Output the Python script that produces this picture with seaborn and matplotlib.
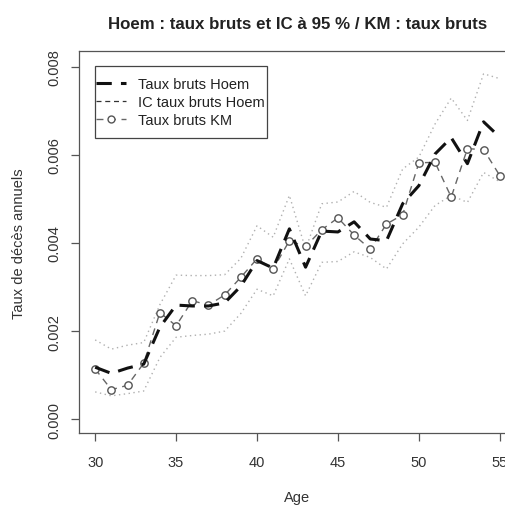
import pandas as pd
import matplotlib
matplotlib.use('Agg')
import matplotlib.pyplot as plt
from matplotlib.lines import Line2D
from matplotlib.patches import Rectangle
import seaborn as sns

# =========================================================
# DONNEES
# =========================================================
ages = [30, 31, 32, 33, 34, 35, 36, 37, 38, 39, 40, 41, 42,
        43, 44, 45, 46, 47, 48, 49, 50, 51, 52, 53, 54, 55]

taux_hoem = [0.00118, 0.00104, 0.00116, 0.00125, 0.00209, 0.00259, 0.00257,
             0.00257, 0.00264, 0.00302, 0.00360, 0.00343, 0.00432, 0.00345,
             0.00427, 0.00425, 0.00448, 0.00409, 0.00405, 0.00489, 0.00530,
             0.00602, 0.00639, 0.00580, 0.00675, 0.00640]

ic_haut = [0.00180, 0.00159, 0.00168, 0.00174, 0.00260, 0.00327, 0.00326,
           0.00326, 0.00328, 0.00365, 0.00439, 0.00413, 0.00508, 0.00386,
           0.00489, 0.00493, 0.00517, 0.00492, 0.00481, 0.00568, 0.00595,
           0.00670, 0.00729, 0.00678, 0.00784, 0.00773]

ic_bas = [0.00062, 0.00053, 0.00058, 0.00064, 0.00140, 0.00186, 0.00190,
          0.00193, 0.00200, 0.00240, 0.00295, 0.00280, 0.00364, 0.00280,
          0.00356, 0.00358, 0.00380, 0.00367, 0.00341, 0.00398, 0.00436,
          0.00485, 0.00508, 0.00492, 0.00560, 0.00539]

taux_km = [0.00114, 0.00067, 0.00077, 0.00127, 0.00242, 0.00212, 0.00269,
           0.00259, 0.00282, 0.00322, 0.00364, 0.00341, 0.00405, 0.00392,
           0.00430, 0.00457, 0.00418, 0.00386, 0.00443, 0.00464, 0.00582,
           0.00583, 0.00504, 0.00614, 0.00612, 0.00553]

x_ticks = [30, 35, 40, 45, 50, 55]
y_ticks = [0.000, 0.002, 0.004, 0.006, 0.008]

df = pd.DataFrame({'Age': ages, 'Hoem': taux_hoem, 'IC_haut': ic_haut,
                   'IC_bas': ic_bas, 'KM': taux_km})

# =========================================================
# STYLE
# =========================================================
sns.set_style("white")
plt.rcParams['font.family'] = ['Liberation Sans', 'DejaVu Sans']
plt.rcParams['text.color'] = '#222222'
gris = '#555555'

fig = plt.figure(figsize=(5.05, 5.06), dpi=100)
ax = fig.add_axes([0.1564, 0.1417, 0.8653, 0.7549])

# =========================================================
# TRACES
# =========================================================
for col in ['IC_haut', 'IC_bas']:
    sns.lineplot(data=df, x='Age', y=col, ax=ax, color='#b0b0b0',
                 linewidth=1, linestyle=(0, (1, 2.5)))

sns.lineplot(data=df, x='Age', y='KM', ax=ax, color='#666666', linewidth=1,
             linestyle=(0, (5, 4)), marker='o', markersize=5.3,
             markerfacecolor='white', markeredgecolor='#555555',
             markeredgewidth=1)

sns.lineplot(data=df, x='Age', y='Hoem', ax=ax, color='#111111',
             linewidth=2.2, linestyle=(0, (5, 3)))

# =========================================================
# AXES
# =========================================================
ax.set_xlim(29, 56)
ax.set_ylim(-0.00032, 0.00835)
ax.set_xticks(x_ticks)
ax.set_yticks(y_ticks)
ax.set_yticklabels([f'{v:.3f}' for v in y_ticks], rotation=90, va='center')
ax.tick_params(axis='both', bottom=True, left=True, length=6, width=0.9,
               color=gris, labelsize=10.5, labelcolor='#333333',
               direction='out')
ax.tick_params(axis='x', pad=9.5)
ax.tick_params(axis='y', pad=7)
for s in ax.spines.values():
    s.set_color(gris)
    s.set_linewidth(0.9)

ax.set_title('Hoem : taux bruts et IC à 95 % / KM : taux bruts',
             fontweight='bold', fontsize=12.2, pad=17)
ax.set_xlabel('Age', fontsize=10.5, labelpad=15.5, color='#333333')
ax.set_ylabel('Taux de décès annuels', fontsize=10.5, labelpad=15,
              color='#333333')

# --- légende (cadre style R : peu de marge à gauche, plus en hauteur) ---
handles = [
    Line2D([], [], color='#111111', linewidth=2.2, linestyle=(0, (5, 3))),
    Line2D([], [], color='#333333', linewidth=0.9, linestyle=(0, (4, 3))),
    Line2D([], [], color='#666666', linewidth=1, linestyle=(0, (5, 4)),
           marker='o', markersize=5, markerfacecolor='white',
           markeredgecolor='#555555'),
]
labels = ['Taux bruts Hoem', 'IC taux bruts Hoem', 'Taux bruts KM']
leg = ax.legend(handles, labels, loc='upper left',
                bbox_to_anchor=(0.0366, 0.9367), borderaxespad=0,
                fontsize=10.5, frameon=False, handlelength=2.0,
                handletextpad=0.86, labelspacing=0.28, borderpad=0.1)
leg.set_zorder(5)

fig.canvas.draw()
bb = leg.get_window_extent()
cadre = Rectangle((bb.x0, bb.y0 - 9), bb.width + 1, bb.height + 18,
                  transform=None, facecolor='white', edgecolor='#444444',
                  linewidth=0.9, zorder=4.5, clip_on=False)
ax.add_artist(cadre)

fig.savefig('out.png', dpi=100)
